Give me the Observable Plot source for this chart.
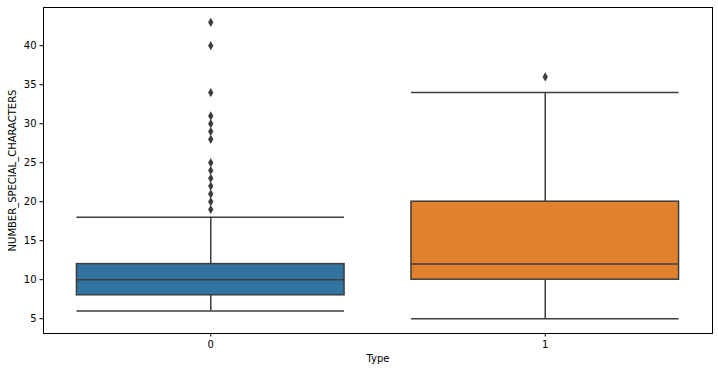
<!DOCTYPE html>
<html>
<head>
<meta charset="utf-8">
<script src="https://cdn.jsdelivr.net/npm/d3@7"></script>
<script src="https://cdn.jsdelivr.net/npm/@observablehq/plot@0.6"></script>
<style>
  html, body { margin: 0; padding: 0; background: #fff; }
  #chart { width: 718px; height: 371px; }
</style>
</head>
<body>
<div id="chart"></div>
<script>
// Categories and box statistics
const types = [0, 1];
const q1 = [8, 10];
const medians = [10, 12];
const q3 = [12, 20];
const whiskerLo = [6, 5];
const whiskerHi = [18, 34];
const boxColors = ["#3274a1", "#e1812c"];
const outliers0 = [19, 20, 21, 22, 23, 24, 25, 28, 29, 30, 31, 34, 40, 43];
const outliers1 = [36];
const yTicks = [5, 10, 15, 20, 25, 30, 35, 40];
const xTicks = [0, 1];

const boxes = types.map((t, i) => ({
  type: t, q1: q1[i], med: medians[i], q3: q3[i],
  lo: whiskerLo[i], hi: whiskerHi[i], color: boxColors[i]
}));
const outliers = [
  ...outliers0.map(v => ({type: 0, value: v})),
  ...outliers1.map(v => ({type: 1, value: v}))
];

const half = 0.4;
const gray = "#3d3d3d";

const chart = Plot.plot({
  width: 718,
  height: 371,
  marginLeft: 43,
  marginRight: 6,
  marginTop: 7,
  marginBottom: 38,
  style: {fontFamily: "DejaVu Sans", fontSize: "10px", background: "#fff", color: "#000"},
  x: {type: "linear", domain: [-0.5, 1.5], ticks: xTicks, tickFormat: d => String(d), label: "Type", labelAnchor: "center", labelArrow: "none", labelOffset: 28, tickSize: 3.5, tickPadding: 3.5},
  y: {domain: [3.1, 44.9], ticks: yTicks, label: "NUMBER_SPECIAL_CHARACTERS", labelAnchor: "center", labelArrow: "none", labelOffset: 35, tickSize: 3.5, tickPadding: 3.5},
  marks: [
    // whiskers
    Plot.ruleX(boxes, {x: "type", y1: "q3", y2: "hi", stroke: gray, strokeWidth: 1.5}),
    Plot.ruleX(boxes, {x: "type", y1: "lo", y2: "q1", stroke: gray, strokeWidth: 1.5}),
    // caps
    Plot.ruleY(boxes, {y: "hi", x1: d => d.type - half, x2: d => d.type + half, stroke: gray, strokeWidth: 1.5}),
    Plot.ruleY(boxes, {y: "lo", x1: d => d.type - half, x2: d => d.type + half, stroke: gray, strokeWidth: 1.5}),
    // boxes
    Plot.rect(boxes, {x1: d => d.type - half, x2: d => d.type + half, y1: "q1", y2: "q3", fill: "color", stroke: gray, strokeWidth: 1.5}),
    // medians
    Plot.ruleY(boxes, {y: "med", x1: d => d.type - half, x2: d => d.type + half, stroke: gray, strokeWidth: 1.5}),
    // outliers
    Plot.dot(outliers, {x: "type", y: "value", symbol: "diamond", r: 2.8, fill: gray, stroke: "none"}),
    Plot.frame({stroke: "#000", strokeWidth: 1})
  ]
});
document.getElementById("chart").appendChild(chart);
</script>
</body>
</html>
